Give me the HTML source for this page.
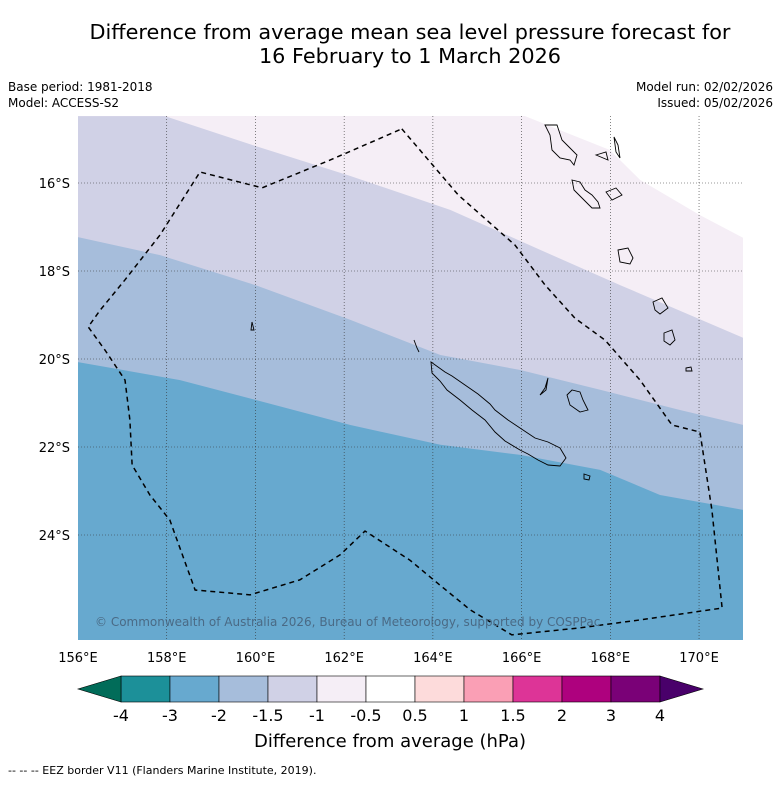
<!DOCTYPE html>
<html><head><meta charset="utf-8"><style>
body{margin:0;background:#fff;font-family:"Liberation Sans","DejaVu Sans",sans-serif}
</style></head><body>
<svg id="chart" width="781" height="781" viewBox="0 0 781 781" xmlns="http://www.w3.org/2000/svg" font-family="DejaVu Sans, Liberation Sans, sans-serif">
<text x="410" y="39" font-size="20.8" text-anchor="middle">Difference from average mean sea level pressure forecast for</text>
<text x="410" y="63" font-size="20.8" text-anchor="middle">16 February to 1 March 2026</text>
<text x="8" y="91" font-size="12">Base period: 1981-2018</text>
<text x="8" y="107" font-size="12">Model: ACCESS-S2</text>
<text x="773" y="91" font-size="12" text-anchor="end">Model run: 02/02/2026</text>
<text x="773" y="107" font-size="12" text-anchor="end">Issued: 05/02/2026</text>
<g id="map"></g>
<g id="cbar"></g>
<text x="390" y="747" font-size="18" text-anchor="middle">Difference from average (hPa)</text>
<text x="8" y="774" font-size="11">--  --  -- EEZ border V11 (Flanders Marine Institute, 2019).</text>
</svg>
<script>
const lonTicks=[156,158,160,162,164,166,168,170];
const latTicks=[16,18,20,22,24];
const cbarLabels=["-4","-3","-2","-1.5","-1","-0.5","0.5","1","1.5","2","3","4"];
const cbarColors=["#1c9099","#67a9cf","#a6bddb","#d0d1e6","#f5eef6","#ffffff","#fddbdb","#fa9fb5","#dd3497","#ae017e","#7a0177"];
const contourLevelColors=["#a6bddb","#d0d1e6","#f5eef6","#ffffff"];
const c1Lon=[156,158.3,160,162.14,164.17,165.97,167.77,169.12,171];
const c1Lat=[-20.07,-20.48,-20.93,-21.5,-21.95,-22.18,-22.52,-23.09,-23.43];
const c2Lon=[156,157.85,160,162.14,164.17,165.97,167.77,169.57,171];
const c2Lat=[-17.23,-17.64,-18.32,-19.11,-19.91,-20.25,-20.7,-21.16,-21.5];
const c3Lon=[157.96,160,162.14,164.39,166.42,168.22,171];
const c3Lat=[-14.48,-15.16,-15.84,-16.61,-17.52,-18.32,-19.52];
const c4Lon=[166.08,166.87,167.99,168.67,170.02,171];
const c4Lat=[-14.48,-14.80,-15.25,-15.93,-16.73,-17.25];
const eezLon=[163.30,164.57,165.85,166.53,167.20,167.88,168.67,169.39,170.02,170.29,170.52,168.67,167.32,165.78,164.84,164.16,163.48,162.47,161.91,161.00,159.88,158.64,158.07,157.62,157.22,157.17,157.06,156.61,156.23,156.50,157.06,157.85,158.75,160.15,161.68,163.30];
const eezLat=[-14.77,-16.27,-17.41,-18.32,-19.07,-19.57,-20.48,-21.50,-21.66,-23.43,-25.66,-25.93,-26.11,-26.27,-25.70,-25.14,-24.57,-23.91,-24.45,-25.02,-25.36,-25.25,-23.66,-23.09,-22.41,-21.39,-20.48,-19.80,-19.27,-18.89,-18.20,-17.18,-15.75,-16.11,-15.48,-14.77];
const X0=78,X1=743,Y0=116,Y1=640;
const xs=lon=>X0+(lon-156)*44.36;
const ys=lat=>183+(-lat-16)*44;
const NS="http://www.w3.org/2000/svg";
function mk(t,a,p){const e=document.createElementNS(NS,t);for(const k in a)e.setAttribute(k,a[k]);p.appendChild(e);return e;}
const map=document.getElementById('map');
const clip=mk('clipPath',{id:'mc'},map);mk('rect',{x:X0,y:Y0,width:X1-X0,height:Y1-Y0},clip);
const g=mk('g',{'clip-path':'url(#mc)'},map);
const bg=mk('rect',{x:X0,y:Y0,width:X1-X0,height:Y1-Y0,fill:"#67a9cf"},g);


const cons=[[c1Lon,c1Lat],[c2Lon,c2Lat],[c3Lon,c3Lat],[c4Lon,c4Lat]];
cons.forEach((c,i)=>{
  let d="M"+xs(c[0][0])+","+ys(c[1][0]);
  for(let j=1;j<c[0].length;j++)d+="L"+xs(c[0][j])+","+ys(c[1][j]);
  if(i<3){d+="L"+X1+","+(Y0-5)+"L"+(X0-5)+","+(Y0-5)+"L"+(X0-5)+","+ys(c[1][0])+"Z";}
  else{d+="L"+(X1+5)+","+ys(c[1][c[1].length-1])+"L"+(X1+5)+","+(Y0-5)+"L"+xs(c[0][0])+","+(Y0-5)+"Z";}
  const p=mk('path',{d:d,fill:contourLevelColors[i]},g);
  
  
});
const isl=mk('g',{fill:'none',stroke:'#000','stroke-width':0.9},g);


mk('path',{d:"M431,362L445,372L452,376L465,385L478,394L490,404L495,410L508,420L520,428L535,438L548,442L560,448L566,458L560,466L548,465L538,460L528,454L520,450L505,441L495,432L485,420L472,410L460,400L447,390L440,381L432,373Z"},isl);
mk('path',{d:"M414,340L417,348L419,352"},isl);
mk('path',{d:"M540,395L546,390L548,378L545,388Z"},isl);
mk('path',{d:"M567,395L572,390L580,392L583,400L588,410L580,412L570,405Z"},isl);
mk('path',{d:"M545,125L550,135L552,150L560,158L570,160L574,165L577,155L570,148L562,140L557,125Z"},isl);
mk('path',{d:"M572,180L580,182L585,190L592,195L598,202L600,208L592,208L582,198L574,190Z"},isl);
mk('path',{d:"M606,192L616,188L622,195L612,200Z"},isl);
mk('path',{d:"M618,250L628,248L633,258L630,264L620,262Z"},isl);
mk('path',{d:"M653,302L662,298L668,308L660,314L655,310Z"},isl);
mk('path',{d:"M664,333L672,330L675,340L670,345L664,341Z"},isl);
mk('path',{d:"M596,155L606,152L608,160Z"},isl);
mk('path',{d:"M614,137L618,145L620,158L616,152Z"},isl);
mk('path',{d:"M686,368L691,367L692,371L686,371Z"},isl);
mk('path',{d:"M252,322L254,330L251,330Z"},isl);
mk('path',{d:"M584,474L590,476L589,480L584,479Z"},isl);
lonTicks.slice(1).forEach(l=>{const e=mk('line',{x1:xs(l),x2:xs(l),y1:Y0,y2:Y1,stroke:'#333','stroke-width':0.6,'stroke-dasharray':'1,2'},g);

});
latTicks.forEach(l=>{const e=mk('line',{x1:X0,x2:X1,y1:ys(-l),y2:ys(-l),stroke:'#333','stroke-width':0.6,'stroke-dasharray':'1,2'},g);

});
let ed="";eezLon.forEach((l,i)=>{ed+=(i?"L":"M")+xs(l)+","+ys(eezLat[i]);});
const eez=mk('path',{d:ed,fill:'none',stroke:'#000','stroke-width':1.5,'stroke-dasharray':'5,4'},g);


const cp=mk('text',{x:95,y:626,'font-size':12,fill:'#4a6a85'},g);cp.textContent="© Commonwealth of Australia 2026, Bureau of Meteorology, supported by COSPPac";


lonTicks.forEach(l=>{const t=mk('text',{x:xs(l),y:662,'font-size':13,'text-anchor':'middle'},map);t.textContent=l+"°E";

});
latTicks.forEach(l=>{const t=mk('text',{x:70,y:ys(-l)+5,'font-size':13,'text-anchor':'end'},map);t.textContent=l+"°S";

});
const cb=document.getElementById('cbar');const bx=121,bw=49,by=676,bh=26;
cbarColors.forEach((c,i)=>{const r=mk('rect',{x:bx+i*bw,y:by,width:bw,height:bh,fill:c,stroke:'#000','stroke-width':0.6},cb);

});
const lt=mk('path',{d:`M${bx},${by}L78,${by+bh/2}L${bx},${by+bh}Z`,fill:'#016c59',stroke:'#000','stroke-width':0.6},cb);


const re=bx+cbarColors.length*bw;
const rt=mk('path',{d:`M${re},${by}L703,${by+bh/2}L${re},${by+bh}Z`,fill:'#49006a',stroke:'#000','stroke-width':0.6},cb);


cbarLabels.forEach((s,i)=>{const t=mk('text',{x:bx+i*bw,y:721,'font-size':16,'text-anchor':'middle'},cb);t.textContent=s;

});
</script>
</body></html>
